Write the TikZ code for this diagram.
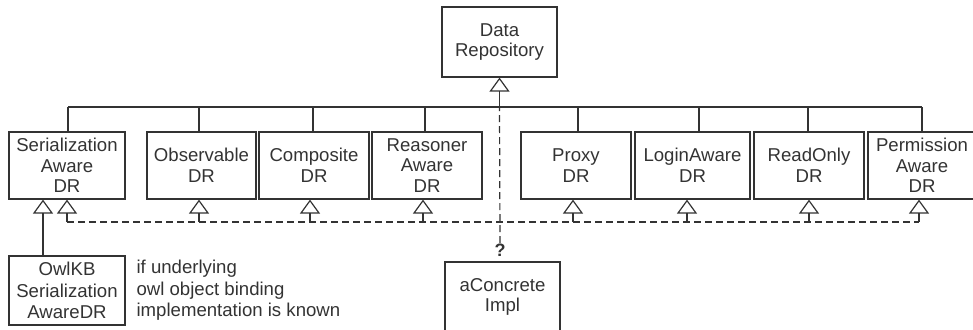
\documentclass[tikz,border=0pt]{standalone}
\usepackage{fontspec}
\setmainfont{Liberation Sans}
\usetikzlibrary{arrows.meta}
\definecolor{ink}{HTML}{333333}
\begin{document}
\begin{tikzpicture}[x=1pt,y=-1pt,
  color=ink, line width=1.2pt,
  every node/.style={font=\fontsize{18.6}{20.5}\selectfont, align=center, inner sep=0pt},
  cls/.style={draw, minimum height=67pt, minimum width=110pt},
  inh/.style={-{Triangle[open,width=20pt,length=14pt]}},
  dep/.style={dash pattern=on 7pt off 4pt},
]
\useasboundingbox (0,0) rectangle (973,329);

% interface at the top
\node[cls, minimum width=115pt, minimum height=70pt] (dr) at (499.5,42) {Data\\Repository};

% decorator layer
\node[cls, minimum width=116pt] (ser) at (67,165.5)  {Serialization\\Aware\\DR};
\node[cls, minimum width=109pt] (obs) at (201.5,165.5) {Observable\\DR};
\node[cls] (com) at (314,165.5)  {Composite\\DR};
\node[cls] (rea) at (427,165.5)  {Reasoner\\Aware\\DR};
\node[cls] (pro) at (576,165.5)  {Proxy\\DR};
\node[cls, minimum width=115pt] (log) at (692.5,165.5) {LoginAware\\DR};
\node[cls] (rdo) at (809,165.5)  {ReadOnly\\DR};
\node[cls, minimum width=108pt] (per) at (922,165.5) {Permission\\Aware\\DR};

% implementations
\node[cls, minimum width=116pt, minimum height=69pt,
      font=\fontsize{18.6}{21.3}\selectfont] (owl) at (67,290.5) {OwlKB\\Serialization\\AwareDR};
\node[anchor=west, align=left, font=\fontsize{18.6}{21.5}\selectfont] (note) at (136,290.5)
  {if underlying\\owl object binding\\implementation is known};
\node[cls, minimum width=115pt, minimum height=70pt] (acon) at (502.5,297) {aConcrete\\Impl};
\node[font=\fontsize{18}{20}\selectfont\bfseries] (q) at (500,250) {?};

% generalisation bus
\coordinate (busL) at (0,107);
\coordinate (dashY) at (0,222);
\foreach \n/\dx in {ser/1, obs/-2.5, com/-1, rea/-2, pro/2, log/6.5, rdo/-1, per/0}
  \draw ([xshift=\dx pt]\n.north) -- ([xshift=\dx pt]\n.north |- busL);
\draw ([xshift=1pt]ser.north |- busL) -- (per.north |- busL);
\draw[inh] (dr.south |- busL) -- (dr.south);

% realisation arrows
\foreach \n/\dx [count=\i] in {ser/-24, ser/0, obs/-2.5, com/-4, rea/-4, pro/-3, log/-5.5, rdo/0, per/-3}
  \coordinate (t\i) at ([xshift=\dx pt]\n.south);
\draw[inh] (owl.north -| t1) -- (t1);
\foreach \i in {2,...,9}
  \draw[inh] (t\i |- dashY) -- (t\i);
\draw[dep] (t2 |- dashY) -- (t9 |- dashY);
\draw[dep] (q.north) -- (dr.south |- busL);
\end{tikzpicture}
\end{document}
